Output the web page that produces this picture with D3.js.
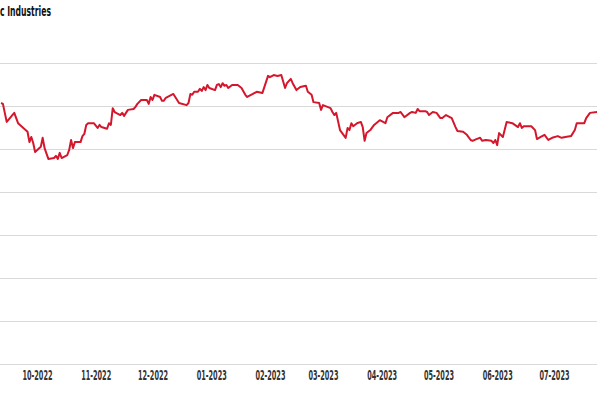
<!DOCTYPE html>
<html>
    <head>
        <meta charset="utf-8" />
        <script src="https://d3js.org/d3.v7.min.js"></script>
        <style>
            body {
                margin: 0;
                background: #fff;
            }
            svg {
                display: block;
            }
            .title {
                font-family: 'Liberation Sans Narrow', 'DejaVu Sans Condensed', Roboto, sans-serif;
                font-weight: bold;
                font-size: 14px;
                fill: #111;
            }
            .x-axis text {
                font-family: 'Liberation Sans Narrow', 'DejaVu Sans Condensed', Roboto, sans-serif;
                font-weight: bold;
                font-size: 14px;
                fill: #333;
            }
        </style>
    </head>
    <body>
        <svg class="chart" width="597" height="398"></svg>
        <script>
            const dates = [
                '2022-09-12', '2022-09-13', '2022-09-15', '2022-09-19', '2022-09-21', '2022-09-26',
                '2022-09-27', '2022-09-28', '2022-09-29', '2022-09-30', '2022-10-03', '2022-10-04',
                '2022-10-05', '2022-10-07', '2022-10-10', '2022-10-11', '2022-10-12', '2022-10-13',
                '2022-10-14', '2022-10-17', '2022-10-18', '2022-10-19', '2022-10-20', '2022-10-21',
                '2022-10-24', '2022-10-25', '2022-10-26', '2022-10-27', '2022-10-28', '2022-10-31',
                '2022-11-02', '2022-11-03', '2022-11-04', '2022-11-07', '2022-11-08', '2022-11-09',
                '2022-11-10', '2022-11-11', '2022-11-14', '2022-11-15', '2022-11-16', '2022-11-17',
                '2022-11-18', '2022-11-21', '2022-11-22', '2022-11-23', '2022-11-25', '2022-11-28',
                '2022-11-29', '2022-11-30', '2022-12-01', '2022-12-02', '2022-12-05', '2022-12-06',
                '2022-12-07', '2022-12-08', '2022-12-12', '2022-12-13', '2022-12-15', '2022-12-19',
                '2022-12-20', '2022-12-21', '2022-12-22', '2022-12-23', '2022-12-25', '2022-12-26',
                '2022-12-27', '2022-12-28', '2022-12-29', '2022-12-30', '2022-12-31', '2023-01-03',
                '2023-01-04', '2023-01-05', '2023-01-06', '2023-01-07', '2023-01-08', '2023-01-09',
                '2023-01-10', '2023-01-12', '2023-01-15', '2023-01-17', '2023-01-19', '2023-01-20',
                '2023-01-23', '2023-01-25', '2023-01-28', '2023-01-31', '2023-02-01', '2023-02-03',
                '2023-02-05', '2023-02-07', '2023-02-09', '2023-02-10', '2023-02-12', '2023-02-13',
                '2023-02-15', '2023-02-17', '2023-02-20', '2023-02-21', '2023-02-23', '2023-02-24',
                '2023-02-27', '2023-02-28', '2023-03-01', '2023-03-05', '2023-03-06', '2023-03-07',
                '2023-03-08', '2023-03-10', '2023-03-13', '2023-03-14', '2023-03-15', '2023-03-16',
                '2023-03-17', '2023-03-19', '2023-03-21', '2023-03-22', '2023-03-23', '2023-03-24',
                '2023-03-26', '2023-03-28', '2023-03-31', '2023-04-03', '2023-04-04', '2023-04-07',
                '2023-04-10', '2023-04-11', '2023-04-13', '2023-04-16', '2023-04-17', '2023-04-19',
                '2023-04-20', '2023-04-21', '2023-04-24', '2023-04-25', '2023-04-26', '2023-04-28',
                '2023-04-30', '2023-05-02', '2023-05-03', '2023-05-05', '2023-05-08', '2023-05-10',
                '2023-05-11', '2023-05-14', '2023-05-16', '2023-05-18', '2023-05-19', '2023-05-21',
                '2023-05-23', '2023-05-24', '2023-05-26', '2023-05-29', '2023-05-30', '2023-05-31',
                '2023-06-01', '2023-06-02', '2023-06-04', '2023-06-06', '2023-06-09', '2023-06-12',
                '2023-06-13', '2023-06-14', '2023-06-15', '2023-06-19', '2023-06-21', '2023-06-22',
                '2023-06-24', '2023-06-26', '2023-06-28', '2023-06-30', '2023-07-03', '2023-07-05',
                '2023-07-07', '2023-07-10', '2023-07-12', '2023-07-13', '2023-07-17', '2023-07-18',
                '2023-07-20', '2023-07-24'
            ]
            const values = [
                60.7, 60.5, 56.3, 58.4, 56.0, 54.0,
                51.6, 52.8, 51.4, 49.3, 50.5, 52.6,
                50.2, 47.7, 47.9, 48.4, 47.7, 49.1,
                47.9, 48.6, 49.8, 52.1, 50.2, 51.6,
                51.6, 53.0, 53.5, 55.6, 56.0, 56.0,
                54.9, 55.6, 55.1, 54.7, 56.0, 55.6,
                59.5, 58.6, 57.9, 58.4, 57.7, 58.4,
                59.1, 59.3, 59.8, 60.5, 61.4, 61.4,
                60.5, 62.1, 61.4, 62.6, 62.1, 61.2,
                61.2, 61.9, 62.8, 62.1, 60.7, 60.2,
                60.7, 62.8, 62.6, 63.3, 63.3, 64.0,
                63.5, 64.4, 63.7, 64.9, 64.2, 63.7,
                64.9, 65.1, 64.4, 65.3, 64.7, 64.9,
                64.2, 64.9, 64.9, 64.2, 62.6, 62.1,
                62.8, 63.3, 63.0, 67.0, 66.7, 67.2,
                67.0, 67.2, 64.2, 65.3, 66.3, 65.3,
                63.7, 64.4, 64.7, 63.3, 62.6, 60.9,
                60.7, 59.1, 60.2, 59.5, 58.6, 57.9,
                58.4, 54.4, 52.6, 54.9, 54.4, 56.0,
                55.3, 56.0, 56.3, 55.1, 51.9, 53.7,
                54.4, 55.6, 56.7, 56.0, 57.4, 58.4,
                58.4, 58.6, 57.4, 58.4, 58.6, 58.4,
                59.3, 58.8, 58.8, 58.6, 57.9, 58.6,
                58.4, 57.2, 57.2, 57.9, 57.2, 55.1,
                54.2, 54.0, 53.3, 52.1, 51.9, 52.3,
                52.6, 51.9, 52.1, 51.9, 51.4, 52.1,
                50.9, 53.7, 52.8, 56.3, 56.0, 55.1,
                56.0, 54.9, 55.3, 55.3, 54.4, 52.3,
                52.8, 53.3, 52.1, 52.6, 53.0, 52.6,
                52.8, 53.0, 54.4, 56.0, 56.0, 57.2,
                58.4, 58.6
            ]
            const gridValues = [0, 10, 20, 30, 40, 50, 60, 70]
            const monthTicks = [
                '2022-10-01', '2022-11-01', '2022-12-01', '2023-01-01', '2023-02-01',
                '2023-03-01', '2023-04-01', '2023-05-01', '2023-06-01', '2023-07-01'
            ]
            const titleText = 'c Industries'

            const parse = d3.timeParse('%Y-%m-%d')
            const data = dates.map((d, i) => ({ date: parse(d), value: values[i] }))

            const width = 597
            const svg = d3.select('svg.chart')

            const x = d3
                .scaleTime()
                .domain([parse('2022-10-01'), parse('2023-07-01')])
                .range([37, 554])
            const y = d3.scaleLinear().domain([0, 70]).range([364, 63])

            // horizontal grid
            svg.append('g')
                .selectAll('line')
                .data(gridValues)
                .enter()
                .append('line')
                .attr('x1', 0)
                .attr('x2', width)
                .attr('y1', (d) => Math.round(y(d)) + 0.5)
                .attr('y2', (d) => Math.round(y(d)) + 0.5)
                .style('stroke', '#d9d9d9')
                .style('stroke-width', '1px')

            // month labels
            const xAxis = svg
                .append('g')
                .attr('class', 'x-axis')
                .attr('transform', 'translate(0,369)')
                .call(
                    d3
                        .axisBottom(x)
                        .tickValues(monthTicks.map(parse))
                        .tickSize(0)
                        .tickPadding(0)
                        .tickFormat(d3.timeFormat('%m-%Y'))
                )
            xAxis.select('.domain').remove()
            xAxis
                .selectAll('text')
                .attr('dy', '0.8em')
                .attr('textLength', 30)
                .attr('lengthAdjust', 'spacingAndGlyphs')

            // price line
            const line = d3
                .line()
                .x((d) => x(d.date))
                .y((d) => y(d.value))

            svg.append('path')
                .datum(data)
                .attr('d', line)
                .style('fill', 'none')
                .style('stroke', '#d4172c')
                .style('stroke-width', '2px')
                .style('stroke-linejoin', 'round')

            svg.append('text')
                .attr('class', 'title')
                .attr('x', 0)
                .attr('y', 16)
                .attr('textLength', 51)
                .attr('lengthAdjust', 'spacingAndGlyphs')
                .text(titleText)
        </script>
    </body>
</html>
